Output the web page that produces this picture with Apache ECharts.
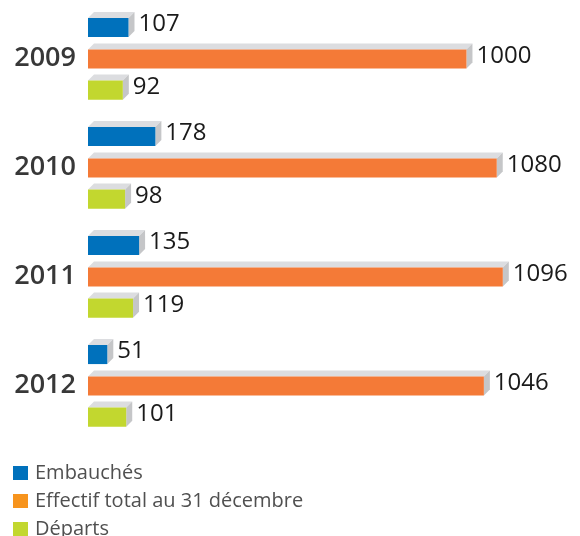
<!DOCTYPE html>
<html>
<head>
<meta charset="utf-8">
<script src="https://cdn.jsdelivr.net/npm/echarts@6/dist/echarts.min.js"></script>
<style>
  html, body { margin: 0; padding: 0; background: #fff; }
  #chart { width: 580px; height: 536px; }
</style>
</head>
<body>
<div id="chart"></div>
<script>
// Staff figures per year
const years = ['2009', '2010', '2011', '2012'];
const hires = [107, 178, 135, 51];
const headcount = [1000, 1080, 1096, 1046];
const departures = [92, 98, 119, 101];

const seriesNames = ['Embauchés', 'Effectif total au 31 décembre', 'Départs'];
const barColors = ['#0071bc', '#f47a37', '#c2d72f'];
const legendColors = ['#0071bc', '#f7941d', '#c2d72f'];
const seriesValues = [hires, headcount, departures];
// vertical position of each bar within a year's band (fraction of band height)
const bandOffsets = [-0.284, 0.005, 0.29];

const TOP_FACE = '#dcdde0';
const SIDE_FACE = '#c5c6c8';

function makeRenderer(idx) {
  return function (params, api) {
    const cat = api.value(0);
    const val = api.value(1);
    const start = api.coord([0, cat]);
    const end = api.coord([val, cat]);
    const band = api.size([0, 1])[1];
    const h = band * 0.175;
    const d = 6;
    const yc = start[1] + band * bandOffsets[idx];
    const x0 = start[0], x1 = end[0];
    const yt = yc - h / 2, yb = yc + h / 2;
    return {
      type: 'group',
      children: [
        {
          type: 'polygon',
          shape: { points: [[x0, yt], [x1, yt], [x1 + d, yt - d], [x0 + d, yt - d]] },
          style: { fill: TOP_FACE }
        },
        {
          type: 'polygon',
          shape: { points: [[x1, yt], [x1 + d, yt - d], [x1 + d, yb - d], [x1, yb]] },
          style: { fill: SIDE_FACE }
        },
        {
          type: 'rect',
          shape: { x: x0, y: yt, width: x1 - x0, height: h },
          style: { fill: barColors[idx] }
        },
        {
          type: 'text',
          x: x1 + d + 4,
          y: yc - 3,
          style: {
            text: String(val),
            fill: '#1a1a1a',
            font: '400 24px "Open Sans"',
            verticalAlign: 'middle',
            align: 'left'
          }
        }
      ]
    };
  };
}

// one stacked legend row per series
const legends = seriesNames.map((n, i) => ({
  orient: 'vertical',
  left: 13,
  top: 463 + i * 28,
  padding: 0,
  itemWidth: 15,
  itemHeight: 14,
  icon: 'rect',
  textStyle: {
    fontSize: 20, color: '#505050',
    fontFamily: 'Open Sans', padding: [0, 0, 0, 2]
  },
  data: [{ name: n, itemStyle: { color: legendColors[i] } }]
}));

const chart = echarts.init(document.getElementById('chart'), null, { renderer: 'canvas' });

chart.setOption({
  animation: false,
  grid: { left: 88, top: 4, width: 496, height: 436, containLabel: false },
  xAxis: {
    type: 'value', min: 0, max: 1300,
    show: false
  },
  yAxis: {
    type: 'category',
    data: years,
    inverse: true,
    axisLine: { show: false },
    axisTick: { show: false },
    splitLine: { show: false },
    axisLabel: {
      margin: 12,
      fontSize: 27,
      fontWeight: 600,
      fontFamily: 'Open Sans',
      color: '#383838'
    }
  },
  legend: legends,
  series: seriesNames.map((name, i) => ({
    name: name,
    type: 'custom',
    color: legendColors[i],
    renderItem: makeRenderer(i),
    encode: { x: 1, y: 0 },
    data: years.map((y, j) => [j, seriesValues[i][j]])
  }))
});
</script>
</body>
</html>
